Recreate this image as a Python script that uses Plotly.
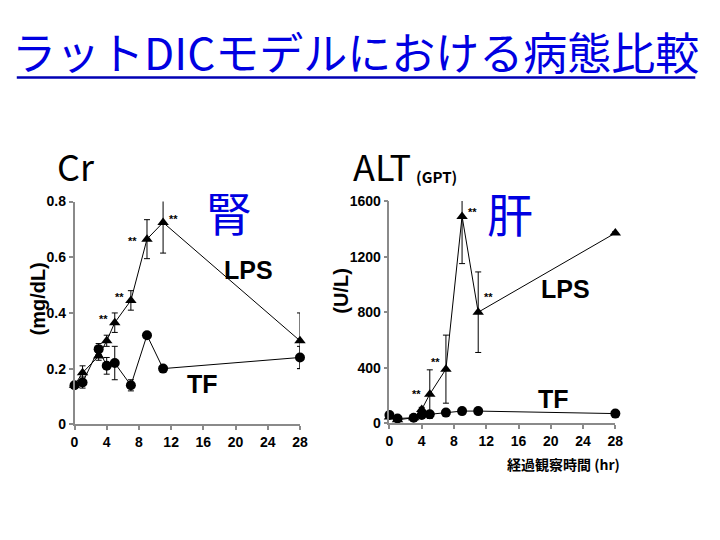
import plotly.graph_objects as go

# ---------------- data ----------------
times = [0, 1, 3, 4, 5, 7, 9, 11, 28]

cr_lps = [0.14, 0.185, 0.245, 0.30, 0.365, 0.445, 0.665, 0.725, 0.30]
cr_lps_err = [0, 0.025, 0.015, 0.02, 0.035, 0.035, 0.07, 0.11, 0.10]
cr_tf = [0.14, 0.15, 0.27, 0.21, 0.22, 0.14, 0.32, 0.20, 0.24]
cr_tf_err = [0, 0.02, 0.02, 0.03, 0.06, 0.02, 0, 0, 0.04]

alt_lps = [45, 25, 40, 100, 210, 390, 1490, 800, 1370]
alt_lps_err = [0, 0, 0, 15, 175, 245, 340, 290, 10]
alt_tf = [60, 35, 40, 60, 65, 77, 88, 88, 70]
alt_tf_err = [0, 0, 0, 0, 0, 0, 0, 0, 0]

x_ticks = [0, 4, 8, 12, 16, 20, 24, 28]
cr_ticks = [0, 0.2, 0.4, 0.6, 0.8]
cr_tick_text = ["0", "0.2", "0.4", "0.6", "0.8"]
alt_ticks = [0, 400, 800, 1200, 1600]

# significance marks: x, y (data), pixel offsets
cr_star_x = [5, 7, 9, 11]
cr_star_y = [0.40, 0.48, 0.665, 0.725]
cr_star_dx = [-11, -11, -14, 10]
cr_star_dy = [-6, -6, -2, 3]
alt_star_x = [5, 7, 9, 11]
alt_star_y = [210, 390, 1490, 800]
alt_star_dx = [-13, -10, 10, 10]
alt_star_dy = [0, 7, 4, 15]

TITLE = "ラットDICモデルにおける病態比較"

W, H = 720, 540
def px(x):
    return x / W
def py(y):
    return 1 - y / H

fig = go.Figure()

line_style = dict(color="black", width=1)
err_style = dict(type="data", visible=True, color="black", thickness=1, width=3)

def add_series(x, y, err, symbol, xa, ya, size):
    fig.add_trace(go.Scatter(
        x=x, y=y, mode="lines+markers",
        line=line_style,
        marker=dict(symbol=symbol, size=size, color="black"),
        error_y=dict(array=err, **err_style),
        xaxis=xa, yaxis=ya, cliponaxis=False, showlegend=False,
    ))

add_series(times, cr_tf, cr_tf_err, "circle", "x", "y", 10)
add_series(times, cr_lps, cr_lps_err, "triangle-up", "x", "y", 10)
add_series(times, alt_tf, alt_tf_err, "circle", "x2", "y2", 10)
add_series(times, alt_lps, alt_lps_err, "triangle-up", "x2", "y2", 10)

axis_common = dict(
    showline=True, linecolor="#8a8a8a", linewidth=1.5,
    ticks="outside", ticklen=4, tickwidth=1.5, tickcolor="#8a8a8a",
    showgrid=False, zeroline=False,
    tickfont=dict(family="Liberation Sans", size=14, color="black", weight="bold"),
)

fig.update_layout(
    width=W, height=H,
    margin=dict(l=0, r=0, t=0, b=0),
    paper_bgcolor="white", plot_bgcolor="white",
    showlegend=False,
    xaxis=dict(domain=[px(71.7), px(301)], range=[0, 28], tickvals=x_ticks,
               anchor="y", **axis_common),
    yaxis=dict(domain=[py(429), py(199.5)], range=[0, 0.8], tickvals=cr_ticks,
               ticktext=cr_tick_text, anchor="x", **axis_common),
    xaxis2=dict(domain=[px(392), px(621.7)], range=[0, 28], tickvals=x_ticks,
                anchor="y2", **axis_common),
    yaxis2=dict(domain=[py(428), py(199)], range=[0, 1600], tickvals=alt_ticks,
                anchor="x2", **axis_common),
)

ann = []
def text(x, y, t, size, color="black", family="Liberation Sans", weight="bold", angle=0):
    ann.append(dict(x=px(x), y=py(y), xref="paper", yref="paper", text=t,
                    showarrow=False, xanchor="center", yanchor="middle", textangle=angle,
                    font=dict(family=family, size=size, color=color, weight=weight)))

CJK = "Noto Sans CJK JP"
text(357.5, 44, TITLE, 44, color="rgb(0,0,225)", family=CJK, weight="normal")
text(73.5, 162, "Cr", 36, family=CJK, weight="normal")
text(384, 162, "ALT", 36, family=CJK, weight="normal")
text(440, 174, "(GPT)", 15, family=CJK, weight="bold")
text(229, 209, "腎", 46, color="rgb(0,0,225)", family=CJK, weight="normal")
text(515, 210, "肝", 46, color="rgb(0,0,225)", family=CJK, weight="normal")
text(249, 270, "LPS", 25)
text(202, 387, "TF", 25)
text(571, 290, "LPS", 25)
text(559, 403, "TF", 25)
text(35, 300, "(mg/dL)", 20, angle=-90)
text(343, 291, "(U/L)", 20, angle=-90)
text(569, 470, "経過観察時間 (hr)", 14, family=CJK, weight="bold")

for xs, ys, dxs, dys, xr, yr in [
    (cr_star_x, cr_star_y, cr_star_dx, cr_star_dy, "x", "y"),
    (alt_star_x, alt_star_y, alt_star_dx, alt_star_dy, "x2", "y2"),
]:
    for xv, yv, dx, dy in zip(xs, ys, dxs, dys):
        ann.append(dict(x=xv, y=yv, xref=xr, yref=yr, text="**", showarrow=False,
                        xanchor="center", yanchor="middle", xshift=dx, yshift=dy,
                        font=dict(family="Liberation Sans", size=11, color="black",
                                  weight="bold")))

fig.update_layout(annotations=ann)

fig.add_shape(type="line", xref="paper", yref="paper",
              x0=px(13), x1=px(703), y0=py(71.5), y1=py(71.5),
              line=dict(color="rgb(0,0,180)", width=2.5))

fig.write_html("out.html")
